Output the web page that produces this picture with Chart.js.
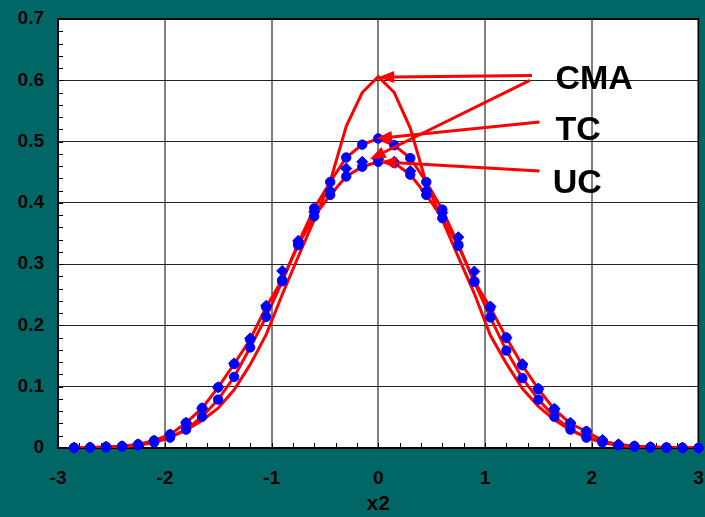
<!DOCTYPE html>
<html>
<head>
<meta charset="utf-8">
<script src="https://cdn.jsdelivr.net/npm/chart.js@4.4.0/dist/chart.umd.min.js"></script>
<style>
  html, body { margin: 0; padding: 0; background: #006666; }
  #wrap { width: 705px; height: 517px; }
</style>
</head>
<body>
<div id="wrap"><canvas id="densityChart" width="705" height="517"></canvas></div>
<script>
// x2 grid, step 0.15
const xValues = [-2.85, -2.7, -2.55, -2.4, -2.25, -2.1, -1.95, -1.8, -1.65, -1.5,
  -1.35, -1.2, -1.05, -0.9, -0.75, -0.6, -0.45, -0.3, -0.15, 0,
  0.15, 0.3, 0.45, 0.6, 0.75, 0.9, 1.05, 1.2, 1.35, 1.5,
  1.65, 1.8, 1.95, 2.1, 2.25, 2.4, 2.55, 2.7, 2.85, 3.0];

// red curves
const cmaValues = [0.0003, 0.0006, 0.0012, 0.0025, 0.005, 0.010, 0.018, 0.029, 0.045, 0.065,
  0.095, 0.136, 0.185, 0.250, 0.312, 0.372, 0.435, 0.525, 0.580, 0.606,
  0.580, 0.522, 0.432, 0.372, 0.312, 0.252, 0.184, 0.138, 0.097, 0.068,
  0.046, 0.029, 0.018, 0.010, 0.006, 0.003, 0.0015, 0.0007, 0.0003, 0.0001];

// TC (blue circles, taller peak)
const tcValues = [0.0002, 0.0005, 0.001, 0.002, 0.004, 0.009, 0.017, 0.030, 0.051, 0.079,
  0.116, 0.164, 0.214, 0.272, 0.334, 0.391, 0.434, 0.474, 0.495, 0.505,
  0.494, 0.473, 0.434, 0.389, 0.332, 0.271, 0.213, 0.159, 0.114, 0.079,
  0.051, 0.030, 0.017, 0.009, 0.004, 0.002, 0.001, 0.0005, 0.0002, 0.0001];

// UC (blue circles, wider)
const ucValues = [0.0004, 0.001, 0.002, 0.003, 0.006, 0.012, 0.022, 0.041, 0.065, 0.099,
  0.137, 0.177, 0.230, 0.274, 0.331, 0.378, 0.413, 0.443, 0.459, 0.467,
  0.465, 0.446, 0.413, 0.375, 0.330, 0.272, 0.229, 0.180, 0.135, 0.096,
  0.063, 0.040, 0.027, 0.012, 0.005, 0.003, 0.0015, 0.0008, 0.0004, 0.0002];

// blue diamonds
const diamondValues = [0.0004, 0.001, 0.002, 0.003, 0.006, 0.012, 0.022, 0.041, 0.065, 0.099,
  0.138, 0.179, 0.232, 0.289, 0.338, 0.385, 0.420, 0.456, 0.467, 0.471,
  0.467, 0.452, 0.420, 0.384, 0.344, 0.288, 0.231, 0.180, 0.137, 0.097,
  0.064, 0.041, 0.027, 0.013, 0.006, 0.003, 0.0015, 0.0008, 0.0004, 0.0002];

const xTitle = 'x2';

// labels and arrows, in data units
const labelItems = [
  { text: 'CMA', x: 1.66, y: 0.586 },
  { text: 'TC', x: 1.66, y: 0.503 },
  { text: 'UC', x: 1.635, y: 0.416 }
];
const arrowItems = [
  { from: [1.44, 0.608], to: [0.0, 0.605] },
  { from: [1.42, 0.600], to: [-0.08, 0.471] },
  { from: [1.51, 0.532], to: [-0.02, 0.505] },
  { from: [1.51, 0.452], to: [0.02, 0.467] }
];

const RED = '#ff0000';
const BLUE = '#0000ff';
const TEAL = '#006666';
const FONT = 'Liberation Sans, Arial, sans-serif';

const toPoints = vals => xValues.map((x, i) => ({ x, y: vals[i] }));

const framePlugin = {
  id: 'frame',
  beforeDraw(chart) {
    const { ctx, chartArea: a } = chart;
    ctx.save();
    ctx.fillStyle = TEAL;
    ctx.fillRect(0, 0, chart.width, chart.height);
    ctx.fillStyle = '#ffffff';
    ctx.fillRect(a.left, a.top, a.right - a.left, a.bottom - a.top);
    ctx.restore();
  },
  beforeDatasetsDraw(chart) {
    const { ctx, chartArea: a, scales } = chart;
    ctx.save();
    ctx.strokeStyle = '#000';
    ctx.lineWidth = 1;
    // minor ticks on the y axis (every 0.02)
    for (let i = 1; i < 35; i++) {
      const y = Math.round(scales.y.getPixelForValue(i * 0.02)) + 0.5;
      ctx.beginPath();
      ctx.moveTo(a.left, y);
      ctx.lineTo(a.left + 5, y);
      ctx.stroke();
    }
    // minor ticks on the x axis (every 0.2)
    for (let i = -14; i < 15; i++) {
      const x = Math.round(scales.x.getPixelForValue(i * 0.2)) + 0.5;
      ctx.beginPath();
      ctx.moveTo(x, a.bottom);
      ctx.lineTo(x, a.bottom - 5);
      ctx.stroke();
    }
    ctx.lineWidth = 2;
    ctx.strokeRect(a.left, a.top, a.right - a.left, a.bottom - a.top);
    ctx.restore();
  },
  afterDatasetsDraw(chart) {
    const { ctx, scales } = chart;
    const px = v => scales.x.getPixelForValue(v);
    const py = v => scales.y.getPixelForValue(v);
    ctx.save();
    ctx.strokeStyle = RED;
    ctx.fillStyle = RED;
    ctx.lineWidth = 3;
    arrowItems.forEach(a => {
      const x0 = px(a.from[0]), y0 = py(a.from[1]);
      const x1 = px(a.to[0]), y1 = py(a.to[1]);
      const ang = Math.atan2(y1 - y0, x1 - x0);
      const len = 16, half = 6;
      const bx = x1 - len * Math.cos(ang), by = y1 - len * Math.sin(ang);
      ctx.beginPath();
      ctx.moveTo(x0, y0);
      ctx.lineTo(bx, by);
      ctx.stroke();
      ctx.beginPath();
      ctx.moveTo(x1, y1);
      ctx.lineTo(bx + half * Math.sin(ang), by - half * Math.cos(ang));
      ctx.lineTo(bx - half * Math.sin(ang), by + half * Math.cos(ang));
      ctx.closePath();
      ctx.fill();
    });
    ctx.fillStyle = '#000';
    ctx.font = 'bold 34px ' + FONT;
    ctx.textAlign = 'left';
    ctx.textBaseline = 'alphabetic';
    labelItems.forEach(l => ctx.fillText(l.text, px(l.x), py(l.y)));
    ctx.restore();
  }
};

const lineSet = (label, vals) => ({
  label, data: toPoints(vals), showLine: true, borderColor: RED, borderWidth: 3,
  pointRadius: 0, tension: 0, order: 3
});

const markerSet = (label, vals, style, r, order) => ({
  label, data: toPoints(vals), showLine: false, pointStyle: style, pointRadius: r,
  backgroundColor: BLUE, borderColor: BLUE, borderWidth: 1, order, clip: false
});

new Chart(document.getElementById('densityChart'), {
  type: 'scatter',
  data: {
    datasets: [
      lineSet('CMA', cmaValues),
      lineSet('TC', tcValues),
      lineSet('UC', ucValues),
      markerSet('diamonds', diamondValues, 'rectRot', 5.5, 2),
      markerSet('TC points', tcValues, 'circle', 4.7, 1),
      markerSet('UC points', ucValues, 'circle', 4.7, 1)
    ]
  },
  options: {
    responsive: false,
    animation: false,
    layout: { padding: { top: 19, right: 5, left: 0, bottom: 0 } },
    plugins: { legend: { display: false }, tooltip: { enabled: false } },
    scales: {
      x: {
        type: 'linear', min: -3, max: 3,
        afterFit: s => { s.height = 69; s.paddingLeft = 0; s.paddingRight = 0; },
        ticks: {
          stepSize: 1, padding: 19, color: '#000',
          font: { family: FONT, size: 19, weight: 'bold' },
          callback: v => String(Math.round(v * 10) / 10)
        },
        grid: { color: '#808080', lineWidth: 2, drawTicks: false },
        border: { display: false },
        title: {
          display: true, text: xTitle, color: '#000', padding: { top: 0, bottom: 0 },
          font: { family: FONT, size: 21, weight: 'bold' }
        }
      },
      y: {
        min: 0, max: 0.7,
        afterFit: s => { s.width = 58; s.paddingTop = 0; s.paddingBottom = 0; },
        ticks: {
          stepSize: 0.1, padding: 14, color: '#000',
          font: { family: FONT, size: 19, weight: 'bold' },
          callback: v => String(Math.round(v * 10) / 10)
        },
        grid: { color: '#222', lineWidth: 1, drawTicks: false },
        border: { display: false }
      }
    }
  },
  plugins: [framePlugin]
});
</script>
</body>
</html>
